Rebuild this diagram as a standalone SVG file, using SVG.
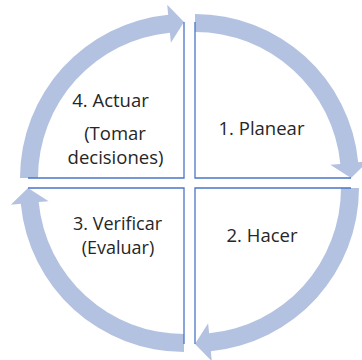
<svg xmlns="http://www.w3.org/2000/svg" width="362" height="360" viewBox="0 0 362 360">
  <style>
    .band { fill: #b4c2e1; stroke: none; }
    .edge { fill: none; stroke: #4a76c8; stroke-width: 1.3; }
    .lbl { font-family: "Open Sans", "Liberation Sans", sans-serif; font-size: 18.5px; fill: #262626; text-anchor: middle; }
    .tight { font-size: 18px; }
  </style>
  <defs>
    <path id="arc" d="M 0,-164 A 164 164 0 0 1 163.23,-15.83 L 173.19,-16.80 L 156,0 L 135.36,-13.13 L 145.32,-14.10 A 146 146 0 0 0 0,-146 Z"/>
    <path id="corner" d="M 0,-156 L 0,0 L 156,0"/>
  </defs>
  <rect width="362" height="360" fill="#ffffff"/>
  <g id="connectors">
    <use href="#arc" class="band" transform="translate(195,178)"/>
    <use href="#arc" class="band" transform="translate(195,188) rotate(90)"/>
    <use href="#arc" class="band" transform="translate(184,188) rotate(180)"/>
    <use href="#arc" class="band" transform="translate(184,178) rotate(270)"/>
  </g>
  <g id="planear">
    <use href="#corner" class="edge" transform="translate(195,178)"/>
    <text class="lbl" x="261.5" y="135">1. Planear</text>
  </g>
  <g id="hacer">
    <use href="#corner" class="edge" transform="translate(195,188) rotate(90)"/>
    <text class="lbl" x="262" y="242">2. Hacer</text>
  </g>
  <g id="verificar">
    <use href="#corner" class="edge" transform="translate(184,188) rotate(180)"/>
    <text class="lbl tight" x="117.5" y="229.5">3. Verificar</text>
    <text class="lbl tight" x="118" y="253.5">(Evaluar)</text>
  </g>
  <g id="actuar">
    <use href="#corner" class="edge" transform="translate(184,178) rotate(270)"/>
    <text class="lbl" x="110.5" y="107">4. Actuar</text>
    <text class="lbl" x="115" y="140">(Tomar</text>
    <text class="lbl" x="115.5" y="164">decisiones)</text>
  </g>
</svg>
